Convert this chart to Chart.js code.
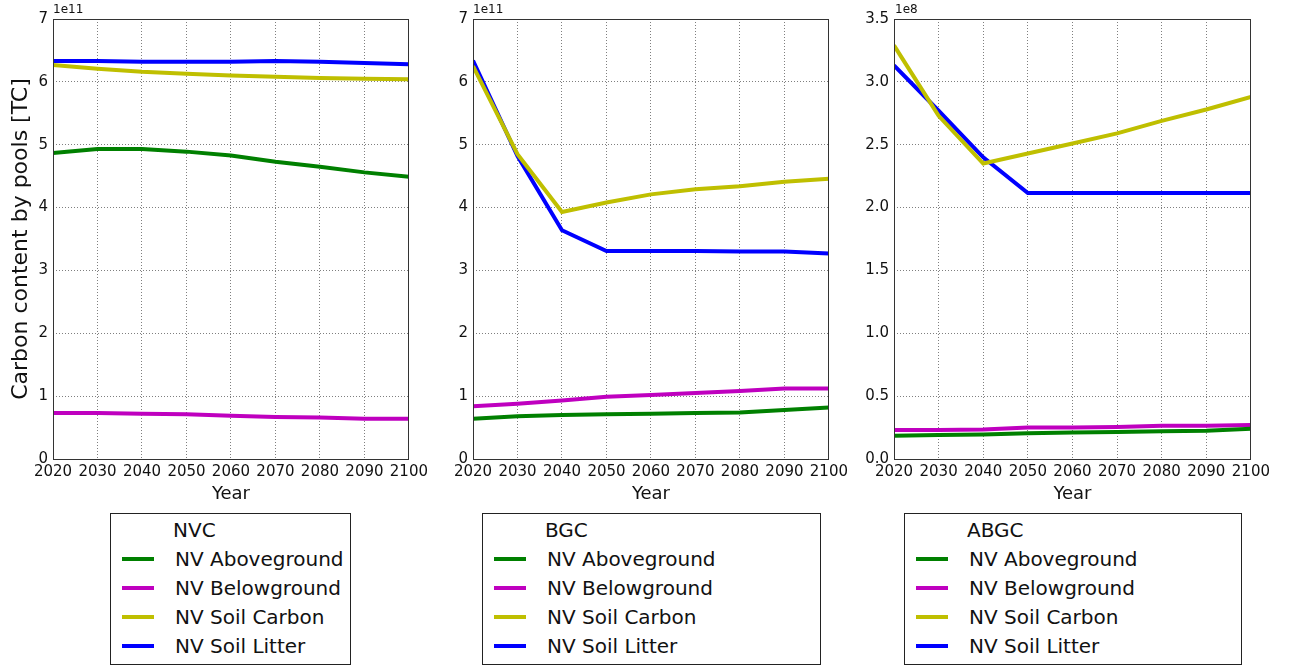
<!DOCTYPE html>
<html>
<head>
<meta charset="utf-8">
<script src="https://cdn.jsdelivr.net/npm/chart.js@4"></script>
<style>
  html, body { margin: 0; padding: 0; background: #fff; }
  body { width: 1289px; height: 668px; position: relative; overflow: hidden; font-family: "DejaVu Sans", sans-serif; color: #111; }
  .cv { position: absolute; top: 0; }
  .mult { position: absolute; top: 2px; font-size: 12px; color: #111; }
  .legend { position: absolute; top: 513px; height: 152px; border: 1px solid #222; box-sizing: border-box; background: #fff; }
  .legend .t { position: absolute; font-size: 20px; line-height: 22px; white-space: nowrap; }
  .legend .s { position: absolute; height: 4px; width: 32px; }
</style>
</head>
<body>
<canvas id="c1" class="cv" style="left:0px" width="432" height="510"></canvas>
<canvas id="c2" class="cv" style="left:420px" width="432" height="510"></canvas>
<canvas id="c3" class="cv" style="left:840px" width="434" height="510"></canvas>
<div class="mult" style="left:53px">1e11</div>
<div class="mult" style="left:473px">1e11</div>
<div class="mult" style="left:895px">1e8</div>
<div id="lg1" class="legend" style="left:110px;width:241px"></div>
<div id="lg2" class="legend" style="left:482px;width:339px"></div>
<div id="lg3" class="legend" style="left:904px;width:338px"></div>
<script>
// ---- data ----
const years = [2020, 2030, 2040, 2050, 2060, 2070, 2080, 2090, 2100];
const seriesNames = ["NV Aboveground", "NV Belowground", "NV Soil Carbon", "NV Soil Litter"];
const panelTitles = ["NVC", "BGC", "ABGC"];
const multipliers = ["1e11", "1e11", "1e8"];

// NVC (x 1e11 TC)
const nvcAbove = [4.87, 4.93, 4.93, 4.89, 4.83, 4.73, 4.65, 4.56, 4.49];
const nvcBelow = [0.73, 0.73, 0.72, 0.71, 0.69, 0.67, 0.66, 0.64, 0.64];
const nvcSoilC = [6.27, 6.21, 6.16, 6.13, 6.10, 6.08, 6.06, 6.05, 6.04];
const nvcLitter = [6.33, 6.33, 6.32, 6.32, 6.32, 6.33, 6.32, 6.30, 6.28];

// BGC (x 1e11 TC)
const bgcAbove = [0.64, 0.68, 0.70, 0.71, 0.72, 0.73, 0.74, 0.78, 0.82];
const bgcBelow = [0.84, 0.88, 0.93, 0.99, 1.02, 1.05, 1.08, 1.12, 1.12];
const bgcSoilC = [6.25, 4.85, 3.93, 4.08, 4.21, 4.29, 4.34, 4.41, 4.46];
const bgcLitter = [6.34, 4.82, 3.64, 3.31, 3.31, 3.31, 3.30, 3.30, 3.27];

// ABGC (x 1e8 TC)
const abgcAbove = [0.185, 0.19, 0.195, 0.205, 0.21, 0.215, 0.22, 0.225, 0.24];
const abgcBelow = [0.23, 0.23, 0.235, 0.25, 0.25, 0.255, 0.265, 0.265, 0.27];
const abgcSoilC = [3.29, 2.73, 2.35, 2.43, 2.51, 2.59, 2.69, 2.78, 2.88];
const abgcLitter = [3.13, 2.77, 2.40, 2.115, 2.115, 2.115, 2.115, 2.115, 2.115];

const yMax = [7, 7, 3.5];
const yStep = [1, 1, 0.5];

// ---- styling ----
const colors = ["#008000", "#bf00bf", "#bfbf00", "#0000ff"];
const FONT = "DejaVu Sans";

const framePlugin = {
  id: "frame",
  afterDraw(chart) {
    const a = chart.chartArea, ctx = chart.ctx;
    ctx.save();
    ctx.strokeStyle = "#333";
    ctx.lineWidth = 1;
    ctx.strokeRect(Math.round(a.left) + 0.5, Math.round(a.top) + 0.5, Math.round(a.right - a.left) - 1, Math.round(a.bottom - a.top));
    ctx.restore();
  }
};

function pts(arr) { return years.map((y, i) => ({ x: y, y: arr[i] })); }

function makeChart(id, data, idx, yWidth, showYTitle) {
  const ctx = document.getElementById(id);
  return new Chart(ctx, {
    type: "line",
    data: {
      datasets: data.map((arr, i) => ({
        label: seriesNames[i],
        data: pts(arr),
        borderColor: colors[i],
        backgroundColor: colors[i],
        borderWidth: 4,
        pointRadius: 0,
        tension: 0,
        fill: false
      }))
    },
    plugins: [framePlugin],
    options: {
      responsive: false,
      animation: false,
      layout: { padding: { left: 0, top: 19, right: 22, bottom: 0 } },
      plugins: { legend: { display: false }, tooltip: { enabled: false } },
      scales: {
        x: {
          type: "linear",
          min: 2020, max: 2100,
          border: { display: false, dash: [1, 2] },
          grid: { color: "rgba(0,0,0,0.5)", drawTicks: false, lineWidth: 1 },
          ticks: { stepSize: 10, autoSkip: false, maxRotation: 0, padding: 4, color: "#111",
                   font: { family: FONT, size: 15 }, callback: v => String(v) },
          title: { display: true, text: "Year", color: "#111", font: { family: FONT, size: 18 }, padding: { top: 0, bottom: 5 } },
          afterFit: s => { s.height = 51; }
        },
        y: {
          min: 0, max: yMax[idx],
          border: { display: false, dash: [1, 2] },
          grid: { color: "rgba(0,0,0,0.5)", drawTicks: false, lineWidth: 1 },
          ticks: { stepSize: yStep[idx], padding: 5, color: "#111", font: { family: FONT, size: 15 },
                   callback: v => idx === 2 ? Number(v).toFixed(1) : String(v) },
          title: { display: showYTitle, text: "Carbon content by pools [TC]", color: "#111",
                   font: { family: FONT, size: 22 }, padding: { top: 8, bottom: 0 } },
          afterFit: s => { s.width = yWidth; }
        }
      }
    }
  });
}

makeChart("c1", [nvcAbove, nvcBelow, nvcSoilC, nvcLitter], 0, 53, true);
makeChart("c2", [bgcAbove, bgcBelow, bgcSoilC, bgcLitter], 1, 53, false);
makeChart("c3", [abgcAbove, abgcBelow, abgcSoilC, abgcLitter], 2, 54, false);

// ---- legends ----
function buildLegend(id, title, lineLeft, textLeft) {
  const el = document.getElementById(id);
  const t = document.createElement("div");
  t.className = "t"; t.textContent = title;
  t.style.left = (textLeft - 2) + "px"; t.style.top = (16 - 11) + "px";
  el.appendChild(t);
  seriesNames.forEach((n, i) => {
    const cy = 45 + i * 29;
    const s = document.createElement("div");
    s.className = "s"; s.style.background = colors[i];
    s.style.left = lineLeft + "px"; s.style.top = (cy - 2) + "px";
    el.appendChild(s);
    const tx = document.createElement("div");
    tx.className = "t"; tx.textContent = n;
    tx.style.left = textLeft + "px"; tx.style.top = (cy - 11) + "px";
    el.appendChild(tx);
  });
}
buildLegend("lg1", panelTitles[0], 11, 64);
buildLegend("lg2", panelTitles[1], 11, 64);
buildLegend("lg3", panelTitles[2], 11, 64);
</script>
</body>
</html>
